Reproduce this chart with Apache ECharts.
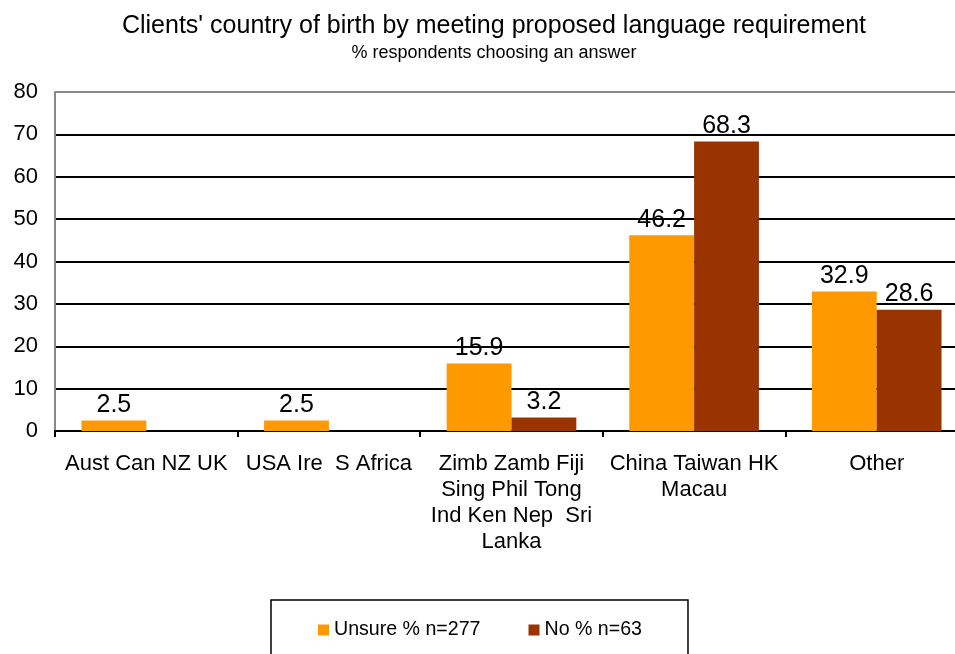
<!DOCTYPE html>
<html>
<head>
<meta charset="utf-8">
<script src="https://cdn.jsdelivr.net/npm/echarts@6/dist/echarts.min.js"></script>
<style>
  html, body { margin: 0; padding: 0; background: #fff; overflow: hidden; width: 955px; height: 654px; }
  /* the plot frame runs slightly past the right edge of the page */
  #chart { width: 968px; height: 654px; }
</style>
</head>
<body>
<div id="chart"></div>
<script>
// Country-of-birth groups and response shares (%)
const categories = [
  'Aust Can NZ UK',
  'USA Ire  S Africa',
  'Zimb Zamb Fiji\nSing Phil Tong\nInd Ken Nep  Sri\nLanka',
  'China Taiwan HK\nMacau',
  'Other'
];
const unsure = [2.5, 2.5, 15.9, 46.2, 32.9];
const no = [0, 0, 3.2, 68.3, 28.6];
const seriesNames = ['Unsure % n=277', 'No % n=63'];
const yTicks = { min: 0, max: 80, interval: 10 };

const font = 'Liberation Sans, Arial, sans-serif';
const chart = echarts.init(document.getElementById('chart'));

const valueLabel = {
  show: true,
  position: 'top',
  distance: 3,
  color: '#000',
  fontFamily: font,
  fontSize: 25,
  formatter: p => (p.value > 0 ? p.value.toFixed(1) : '')
};

chart.setOption({
  animation: false,
  backgroundColor: '#fff',
  title: {
    text: "Clients' country of birth by meeting proposed language requirement",
    subtext: '% respondents choosing an answer',
    left: 489,
    textAlign: 'center',
    top: 9,
    itemGap: 5,
    textStyle: { fontFamily: font, fontSize: 25, fontWeight: 'normal', color: '#000' },
    subtextStyle: { fontFamily: font, fontSize: 18, color: '#000' }
  },
  legend: {
    data: seriesNames,
    left: 271,
    top: 600,
    orient: 'horizontal',
    padding: [20, 46, 40, 47],
    borderColor: '#000',
    borderWidth: 1.5,
    itemWidth: 11,
    itemHeight: 11,
    itemGap: 48,
    icon: 'rect',
    textStyle: { fontFamily: font, fontSize: 19.6, color: '#000' }
  },
  grid: { left: 55, right: 0, top: 92, bottom: 223, containLabel: false },
  xAxis: {
    type: 'category',
    data: categories,
    axisLine: { show: true, lineStyle: { color: '#000', width: 2 } },
    axisTick: { show: true, length: 6, lineStyle: { color: '#000', width: 2 } },
    axisLabel: {
      interval: 0,
      margin: 20,
      color: '#000',
      fontFamily: font,
      fontSize: 22,
      lineHeight: 26,
      align: 'center'
    },
    splitLine: { show: false }
  },
  yAxis: {
    type: 'value',
    min: yTicks.min,
    max: yTicks.max,
    interval: yTicks.interval,
    axisLine: { show: true, lineStyle: { color: '#888', width: 2 } },
    axisTick: { show: false },
    axisLabel: {
      color: '#000',
      fontFamily: font,
      fontSize: 22,
      margin: 17
    },
    splitLine: {
      show: true,
      lineStyle: { color: '#000', width: 2 }
    }
  },
  series: [
    {
      name: seriesNames[0],
      type: 'bar',
      data: unsure,
      barGap: '0%',
      barCategoryGap: '29%',
      itemStyle: { color: '#FF9900' },
      label: valueLabel
    },
    {
      name: seriesNames[1],
      type: 'bar',
      data: no,
      itemStyle: { color: '#993300' },
      label: valueLabel
    }
  ],
  graphic: [{
    // grey frame line across the top of the plot area
    type: 'line',
    z: 10,
    shape: { x1: 55, y1: 92, x2: 968, y2: 92 },
    style: { stroke: '#888', lineWidth: 2 }
  }]
});
</script>
</body>
</html>
